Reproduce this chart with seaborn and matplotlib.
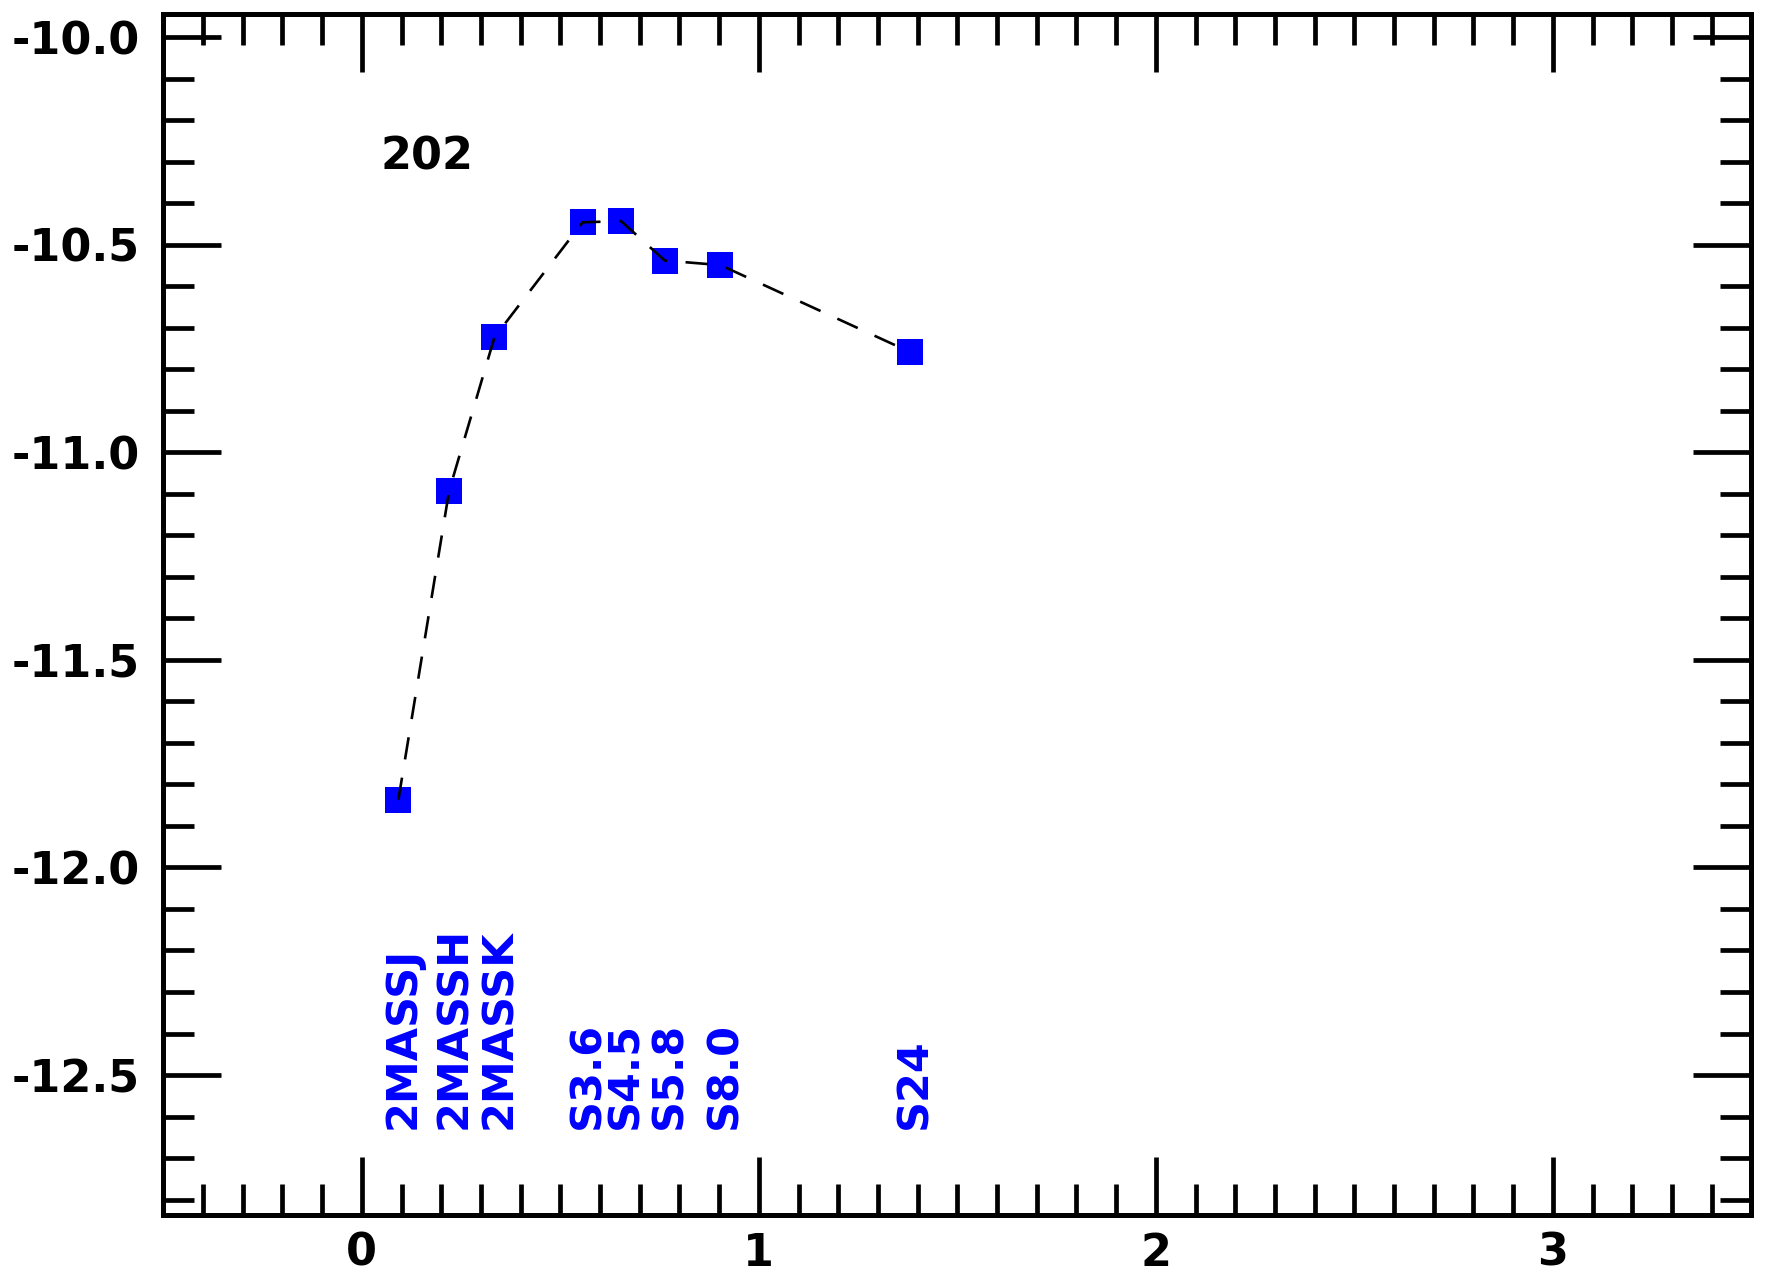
import matplotlib
matplotlib.use("Agg")
import matplotlib.pyplot as plt
import matplotlib.transforms as mtransforms
import seaborn as sns
import pandas as pd
from matplotlib.ticker import MultipleLocator, FormatStrFormatter

# -----------------------------
# Data (log wavelength vs log flux)
# -----------------------------
bands = ["2MASSJ", "2MASSH", "2MASSK", "S3.6", "S4.5", "S5.8", "S8.0", "S24"]
log_lam = [0.092, 0.220, 0.334, 0.556, 0.653, 0.763, 0.903, 1.380]
log_flux = [-11.837, -11.092, -10.723, -10.446, -10.443, -10.538, -10.549, -10.758]
source_id = "202"

df = pd.DataFrame({"x": log_lam, "y": log_flux, "band": bands})

sns.set_style("ticks")
plt.rcParams["font.family"] = ["DejaVu Sans"]
plt.rcParams["font.weight"] = "bold"
plt.rcParams["axes.unicode_minus"] = False
plt.rcParams["text.color"] = "black"
plt.rcParams["xtick.color"] = "black"
plt.rcParams["ytick.color"] = "black"

fig = plt.figure(figsize=(17.66, 12.75), dpi=100)
ax = fig.add_axes([0.0925, 0.0468, 0.8992, 0.9426])

sns.scatterplot(data=df, x="x", y="y", marker="s", s=330, color="#0000ff",
                linewidth=0, ax=ax, zorder=2)
sns.lineplot(data=df, x="x", y="y", sort=False, color="black", linewidth=1.9,
             ax=ax, zorder=3)
ax.lines[-1].set_dashes((8.5, 7))

# band labels, nudged a little to the right of each point
shift = mtransforms.ScaledTranslation(3.2 / 72, 0, fig.dpi_scale_trans)
for xi, name in zip(log_lam, bands):
    ax.text(xi, -12.63, name, rotation=90, ha="center", va="bottom",
            color="#0000ff", fontsize=31, fontweight="bold",
            transform=ax.transData + shift)

ax.text(0.164, -10.288, source_id, ha="center", va="center",
        fontsize=32, fontweight="bold", color="black")

ax.set_xlim(-0.5, 3.5)
ax.set_ylim(-12.838, -9.943)
ax.set_xlabel("")
ax.set_ylabel("")

ax.xaxis.set_major_locator(MultipleLocator(1))
ax.xaxis.set_minor_locator(MultipleLocator(0.1))
ax.yaxis.set_major_locator(MultipleLocator(0.5))
ax.yaxis.set_minor_locator(MultipleLocator(0.1))
ax.yaxis.set_major_formatter(FormatStrFormatter("%.1f"))

ax.tick_params(which="both", direction="in", top=True, right=True,
               width=3.4, color="black", labelcolor="black")
ax.tick_params(which="major", length=42)
ax.tick_params(which="minor", length=22)
ax.tick_params(axis="y", which="major", pad=17, labelsize=32)
ax.tick_params(axis="x", which="major", pad=12, labelsize=32)
for lab in ax.get_xticklabels() + ax.get_yticklabels():
    lab.set_fontweight("bold")

for sp in ax.spines.values():
    sp.set_visible(True)
    sp.set_linewidth(3.6)
    sp.set_color("black")

fig.savefig("out.png", dpi=100)
plt.close(fig)
